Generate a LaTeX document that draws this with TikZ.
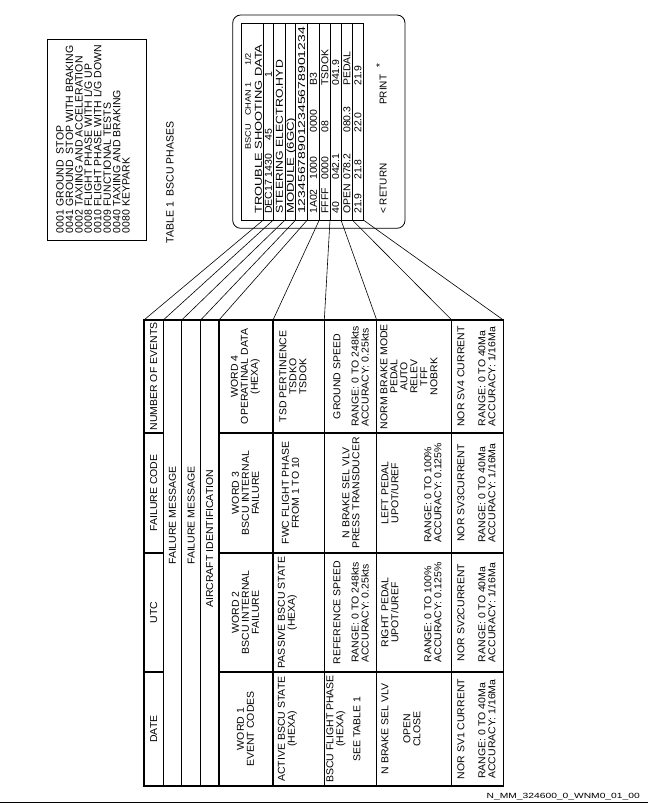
\documentclass[tikz,border=0pt]{standalone}
\usepackage{fontspec}
\setmainfont{Liberation Sans}
\newfontfamily\tabfont[FakeStretch=1.05]{Liberation Sans}
\newfontfamily\lblfont[FakeStretch=1.37]{Liberation Sans}
\newcommand\sx[2]{\scalebox{#1}[1]{#2}}
\begin{document}
\begin{tikzpicture}[x=1pt,y=-1pt,
  tabline/.style={line width=1.5pt, line cap=rect},
  fineline/.style={line width=0.8pt},
  conn/.style={line width=0.6pt},
  tcell/.style={rotate=90, inner sep=0pt, align=center, font=\tabfont\fontsize{10}{10}\selectfont},
  tcellL/.style={tcell, align=left},
  scrf/.style={rotate=90, inner sep=0pt, anchor=base west, font=\fontsize{10}{10}\selectfont},
  phasetxt/.style={rotate=90, inner sep=0pt, anchor=base west, font=\fontsize{10.5}{10.5}\selectfont},
]
\useasboundingbox (0,0) rectangle (648,803);

% ---------- TABLE 1 (BSCU phases) ----------
\draw[fineline] (47.7,39.3) rectangle (146.7,240.7);
\foreach \i/\c/\t in {0/0001/{GROUND~~STOP}, 1/0041/{GROUND~~STOP WITH BRAKING},
  2/0002/{TAXIING AND ACCELERATION}, 3/0008/{FLIGHT PHASE WITH L/G UP},
  4/0010/{FLIGHT PHASE WITH L/G DOWN}, 5/0009/{FUNCTIONAL TESTS},
  6/0040/{TAXIING AND BRAKING}, 7/0080/{KEYPARK}}{
  \node[phasetxt] (pc\i) at ({63.7+9.43*\i},233.3) {\c};
  \node[phasetxt] (pn\i) at ({63.7+9.43*\i},206.7) {\t};
}
\node[phasetxt] (tabt) at (173.7,243.3) {TABLE 1};
\node[phasetxt] (tabn) at (173.7,196.7) {BSCU PHASES};

% ---------- screen ----------
\draw[fineline, rounded corners=8pt] (232.7,15) rectangle (405,228.3);
\draw[fineline] (241.7,23.3) rectangle (363.3,220);
\foreach \x in {263.3,273.3,285,295.7,307.3,319.3,330,341,352.3}
  \draw[fineline] (\x,23.3) -- (\x,220);

% row 0
\node[scrf] (r0a) at (250.8,150) {\sx{1.15}{\fontsize{8}{8}\selectfont BSCU}};
\node[scrf] (r0b) at (250.8,116) {\sx{1.15}{\fontsize{8}{8}\selectfont CHAN 1}};
\node[scrf] (r0c) at (250.8,66) {\sx{1.15}{\fontsize{8}{8}\selectfont 1/2}};
% row 1
\node[scrf] (r1) at (261.8,214) {\sx{1.29}{TROUBLE SHOOTING DATA}};
% row 2
\node[scrf] (r2a) at (271.8,214) {\sx{1.05}{DEC17 1430}};
\node[scrf] (r2c) at (271.8,141) {\sx{1.05}{45}};
\node[scrf] (r2d) at (271.8,78) {\sx{1.05}{1}};
% rows 3-5
\node[scrf] (r3) at (282.8,214) {\sx{1.23}{STEERING ELECTRO.HYD}};
\node[scrf] (r4) at (293.8,214) {\sx{1.32}{MODULE (6GC)}};
\node[scrf] (r5) at (305.1,214) {\sx{1.4}{123456789012345678901234}};
% row 6
\node[scrf] (r6a) at (316.9,214) {\sx{1.05}{1A02}};
\node[scrf] (r6b) at (316.9,180) {\sx{1.05}{1000}};
\node[scrf] (r6c) at (316.9,133) {\sx{1.05}{0000}};
\node[scrf] (r6d) at (316.9,86) {\sx{1.05}{B3}};
% row 7
\node[scrf] (r7a) at (328.3,214) {\sx{1.05}{FFFF}};
\node[scrf] (r7b) at (328.3,180) {\sx{1.05}{0000}};
\node[scrf] (r7c) at (328.3,133) {\sx{1.05}{08}};
\node[scrf] (r7d) at (328.3,86) {\sx{1.05}{TSDOK}};
% row 8
\node[scrf] (r8a) at (339.1,214) {\sx{1.05}{40}};
\node[scrf] (r8b) at (339.1,180) {\sx{1.05}{042.1}};
\node[scrf] (r8c) at (339.1,86) {\sx{1.05}{041.9}};
% row 9
\node[scrf] (r9a) at (350.3,214) {\sx{1.05}{OPEN}};
\node[scrf] (r9b) at (350.3,180) {\sx{1.05}{078.2}};
\node[scrf] (r9c) at (350.3,133) {\sx{1.05}{080.3}};
\node[scrf] (r9d) at (350.3,86) {\sx{1.05}{PEDAL}};
% row 10
\node[scrf] (r10a) at (361.4,214) {\sx{1.05}{21.9}};
\node[scrf] (r10b) at (361.4,180) {\sx{1.05}{21.8}};
\node[scrf] (r10c) at (361.4,133) {\sx{1.05}{22.0}};
\node[scrf] (r10d) at (361.4,86) {\sx{1.05}{21.9}};
% row 11
\node[scrf] (r11a) at (386.6,214) {< RETURN};
\node[scrf] (r11b) at (386.6,105) {PRINT};
\node[scrf] (r11c) at (383,68) {*};

% ---------- connectors ----------
\foreach \i/\x in {1/263.3,2/273.3,3/285,4/295.7,5/307.3,6/319.3,7/330,8/341,9/352.3,10/363.3}
  \coordinate (s\i) at (\x,220);
\foreach \i/\x in {1/144,2/163.3,3/181.7,4/200.7,5/219,6/273,7/324.3,8/376.7,9/451.7,10/503.3}
  \coordinate (t\i) at (\x,320);
\foreach \i in {1,...,10} \draw[conn] (s\i) -- (t\i);

% ---------- main table grid ----------
\draw[tabline] (144,320) rectangle (503.3,786);
\foreach \x in {163.3,181.7,200.7,219,273,324.3,376.7,451.7}
  \draw[tabline] (\x,320) -- (\x,786);
\foreach \y in {433,553,672}{
  \draw[tabline] (144,\y) -- (163.3,\y);
  \draw[tabline] (219,\y) -- (503.3,\y);
}

% header rows
\node[tcell] (date) at (153.6,729) {DATE};
\node[tcell] (utc) at (153.6,612.5) {UTC};
\node[tcell] (fcode) at (153.6,493) {FAILURE CODE};
\node[tcell] (nev) at (153.6,376.5) {NUMBER OF EVENTS};
\node[tcell, anchor=west] (fm1) at (172.5,565) {FAILURE MESSAGE};
\node[tcell, anchor=west] (fm2) at (191.2,565) {FAILURE MESSAGE};
\node[tcell, anchor=west] (acid) at (209.8,608) {AIRCRAFT IDENTIFICATION};

% words
\node[tcell] (w1) at (245.5,729) {WORD 1\\EVENT CODES};
\node[tcell] (w2) at (245.5,612.5) {WORD 2\\BSCU INTERNAL\\FAILURE};
\node[tcell] (w3) at (245.5,493) {WORD 3\\BSCU INTERNAL\\FAILURE};
\node[tcell] (w4) at (245.5,376.5) {WORD 4\\OPERATINAL DATA\\(HEXA)};

\node[tcell] (f1) at (287.5,729) {ACTIVE BSCU STATE\\(HEXA)};
\node[tcell] (f2) at (287.5,612.5) {PASSIVE BSCU STATE\\(HEXA)};
\node[tcell] (f3) at (290.5,493) {FWC FLIGHT PHASE\\FROM 1 TO 10};
\node[tcell] (f4) at (293,376.5) {TSD PERTINENCE\\TSDKO\\TSDOK};

\node[tcell] (g1a) at (336,729) {BSCU FLIGHT PHASE\\(HEXA)};
\node[tcell] (g1b) at (357,729) {SEE TABLE 1};
\node[tcell] (g2a) at (337,612.5) {REFERENCE SPEED};
\node[tcellL] (g2b) at (360,612.5) {RANGE: 0 TO 248kts\\ACCURACY: 0.25kts};
\node[tcell] (g3) at (351,493) {N BRAKE SEL VLV\\PRESS TRANSDUCER};
\node[tcell] (g4a) at (337,376.5) {GROUND SPEED};
\node[tcellL] (g4b) at (360,376.5) {RANGE: 0 TO 248kts\\ACCURACY: 0.25kts};

\node[tcell] (h1a) at (385,729) {N BRAKE SEL VLV};
\node[tcell] (h1b) at (412,729) {OPEN\\CLOSE};
\node[tcell] (h2a) at (390,612.5) {RIGHT PEDAL\\UPOT/UREF};
\node[tcellL] (h2b) at (433,612.5) {RANGE: 0 TO 100\%\\ACCURACY: 0.125\%};
\node[tcell] (h3a) at (390,493) {LEFT PEDAL\\UPOT/UREF};
\node[tcellL] (h3b) at (433,493) {RANGE: 0 TO 100\%\\ACCURACY: 0.125\%};
\node[tcell] (h4) at (409,376.5) {NORM BRAKE MODE\\PEDAL\\AUTO\\RELEV\\TFF\\NOBRK};

\node[tcell] (i1a) at (461,729) {NOR SV1 CURRENT};
\node[tcellL] (i1b) at (487,729) {RANGE: 0 TO 40Ma\\ACCURACY: 1/16Ma};
\node[tcell] (i2a) at (461,612.5) {NOR SV2CURRENT};
\node[tcellL] (i2b) at (487,612.5) {RANGE: 0 TO 40Ma\\ACCURACY: 1/16Ma};
\node[tcell] (i3a) at (461,493) {NOR SV3CURRENT};
\node[tcellL] (i3b) at (487,493) {RANGE: 0 TO 40Ma\\ACCURACY: 1/16Ma};
\node[tcell] (i4a) at (461,376.5) {NOR SV4 CURRENT};
\node[tcellL] (i4b) at (487,376.5) {RANGE: 0 TO 40Ma\\ACCURACY: 1/16Ma};

% ---------- footer ----------
\draw[fineline] (0,802) -- (648,802);
\node[anchor=base east, inner sep=0pt, font=\lblfont\fontsize{7.5}{8}\selectfont] (lbl) at (640,798) {N\_MM\_324600\_0\_WNM0\_01\_00};
\end{tikzpicture}
\end{document}
